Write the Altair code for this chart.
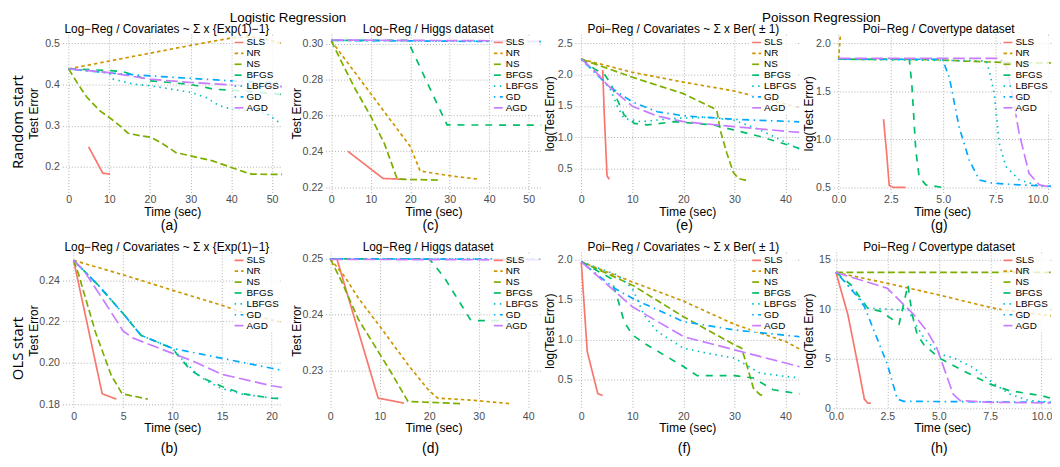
import altair as alt
import pandas as pd

METHODS = ["SLS", "NR", "NS", "BFGS", "LBFGS", "GD", "AGD"]
COLORS = ["#F8766D", "#CD9600", "#7CAE00", "#00BE67", "#00BFC4", "#00A9FF", "#C77CFF"]
DASHES = [[1, 0], [3.5, 3], [7, 3.5], [7, 7], [1.5, 4.5], [1.5, 4.5, 7, 4.5], [12, 4.5]]

# (a) Random start, Log-Reg / Covariates ~ Sigma x {Exp(1)-1}
PANEL_A = {
    "SLS": ([4.9, 8.4, 10.2], [0.249, 0.185, 0.183]),
    "NR": ([0, 10, 20, 30, 40, 44, 48, 52.5], [0.438, 0.457, 0.476, 0.495, 0.513, 0.516, 0.51, 0.50]),
    "NS": ([0, 2.3, 4.5, 7.7, 10, 12.6, 14.6, 17.5, 20.3, 23.2, 26.4, 30, 35.4, 40, 43.5, 45, 49, 52.5],
           [0.438, 0.401, 0.369, 0.336, 0.32, 0.30, 0.282, 0.276, 0.272, 0.256, 0.235, 0.227, 0.215, 0.199, 0.187, 0.183, 0.182, 0.182]),
    "BFGS": ([0, 5, 10, 13.4, 17, 19.9, 25, 30, 33.7, 35.4, 40, 45, 52.5],
             [0.438, 0.436, 0.434, 0.431, 0.42, 0.409, 0.405, 0.40, 0.393, 0.389, 0.386, 0.383, 0.376]),
    "LBFGS": ([0, 5, 10, 11, 15.9, 20, 24, 30, 33.7, 37, 40.2, 45, 49, 51.5, 52.5],
              [0.438, 0.433, 0.428, 0.413, 0.401, 0.397, 0.391, 0.381, 0.369, 0.349, 0.34, 0.338, 0.328, 0.31, 0.305]),
    "GD": ([0, 10, 20, 30, 40, 49, 52.5], [0.438, 0.428, 0.421, 0.415, 0.409, 0.405, 0.404]),
    "AGD": ([0, 10, 20, 30, 40, 48, 52.5], [0.438, 0.429, 0.413, 0.405, 0.399, 0.396, 0.395]),
}

# (c) Random start, Log-Reg / Higgs dataset
PANEL_C = {
    "SLS": ([4.2, 13.1, 18.5], [0.240, 0.2249, 0.2244]),
    "NR": ([0, 20, 22.5, 30, 37.5], [0.3015, 0.2427, 0.229, 0.2264, 0.2244]),
    "NS": ([0, 3, 6, 10, 13.5, 16.7, 20, 27], [0.3015, 0.288, 0.275, 0.2595, 0.244, 0.2245, 0.2243, 0.224]),
    "BFGS": ([0, 19.3, 29.3, 53.2], [0.3018, 0.3018, 0.2547, 0.2546]),
    "LBFGS": ([0, 53.2], [0.3018, 0.3012]),
    "GD": ([0, 53.2], [0.3018, 0.3010]),
    "AGD": ([0, 40, 53.2], [0.302, 0.3016, 0.3012]),
}

# (e) Random start, Poi-Reg / Covariates ~ Sigma x Ber(+-1)
PANEL_E = {
    "SLS": ([4.2, 4.5, 5.05, 5.5], [2.074, 1.38, 0.38, 0.326]),
    "NR": ([0, 10, 20, 30, 42.7], [2.247, 2.037, 1.879, 1.737, 1.47]),
    "NS": ([0, 10, 20, 26, 26.6, 27.2, 28.5, 29.8, 30.8, 32.7],
           [2.247, 1.958, 1.695, 1.458, 1.405, 1.116, 0.747, 0.432, 0.337, 0.30]),
    "BFGS": ([0, 2.6, 4.5, 5.8, 7.1, 8.4, 10.4, 13, 18.1, 25.9, 29.8, 35, 42.7],
             [2.247, 2.09, 2.01, 1.853, 1.59, 1.353, 1.22, 1.195, 1.247, 1.195, 1.116, 1.01, 0.82]),
    "LBFGS": ([0, 3.9, 5.8, 7.1, 8.4, 11.7, 18.1, 24.6, 29.8, 35, 42.7],
              [2.247, 1.958, 1.747, 1.484, 1.30, 1.247, 1.30, 1.316, 1.274, 1.116, 0.81]),
    "GD": ([0, 5.2, 10, 14.9, 20, 30, 42.7], [2.247, 1.826, 1.563, 1.405, 1.342, 1.284, 1.245]),
    "AGD": ([0, 2.6, 5.2, 10, 14.9, 20, 30, 42.7], [2.247, 2.063, 1.826, 1.495, 1.337, 1.247, 1.168, 1.075]),
}

# (g) Random start, Poi-Reg / Covertype dataset
PANEL_G = {
    "SLS": ([2.15, 2.3, 2.42, 2.6, 3.2], [1.21, 0.85, 0.52, 0.498, 0.497]),
    "NR": ([0, 0.06, 0.12], [1.834, 2.0, 2.2]),
    "NS": ([0, 4.5, 6, 8, 10.2], [1.834, 1.83, 1.815, 1.80, 1.795]),
    "BFGS": ([0, 3.38, 3.5, 3.69, 3.85, 4.17, 4.97], [1.834, 1.834, 1.576, 0.886, 0.61, 0.524, 0.497]),
    "LBFGS": ([0, 7.04, 7.2, 7.44, 7.68, 8.0, 8.63, 9.59, 10.2],
              [1.834, 1.817, 1.714, 1.472, 0.955, 0.714, 0.576, 0.514, 0.507]),
    "GD": ([0, 4.97, 5.29, 5.76, 6.24, 6.72, 7.36, 8.63, 9.59, 10.2],
           [1.834, 1.834, 1.645, 1.128, 0.783, 0.576, 0.541, 0.524, 0.514, 0.51]),
    "AGD": ([0, 7.68, 8.0, 8.3, 8.63, 9.1, 9.59, 10.2], [1.843, 1.843, 1.783, 1.472, 1.059, 0.645, 0.524, 0.50]),
}

# (b) OLS start, Log-Reg / Covariates ~ Sigma x {Exp(1)-1}
PANEL_B = {
    "SLS": ([0, 2.89, 4.32], [0.2497, 0.185, 0.1824]),
    "NR": ([0, 5, 10, 15, 17.4, 20.1, 21.2], [0.2497, 0.2427, 0.2352, 0.2279, 0.2239, 0.2207, 0.2195]),
    "NS": ([0, 0.5, 2.2, 3.8, 4.9, 7.5], [0.2497, 0.243, 0.215, 0.194, 0.185, 0.1824]),
    "BFGS": ([0, 2.5, 5, 6.8, 10, 10.5, 11.8, 13.1, 15, 17.1, 20, 21.2],
             [0.2497, 0.2376, 0.2239, 0.2134, 0.207, 0.2038, 0.1966, 0.1925, 0.1885, 0.185, 0.1829, 0.1826]),
    "LBFGS": ([0, 2.5, 5, 6.8, 10, 11.2, 12.5, 13.5, 15, 17.1, 20, 21.2],
              [0.2497, 0.2376, 0.2239, 0.2134, 0.207, 0.2005, 0.1945, 0.191, 0.1875, 0.1848, 0.1829, 0.1826]),
    "GD": ([0, 2.5, 5, 6.8, 10, 15, 20, 21.2], [0.2497, 0.2376, 0.2239, 0.2134, 0.207, 0.2022, 0.1974, 0.1962]),
    "AGD": ([0, 1, 3, 5, 6, 10, 12, 15, 20, 21.2],
            [0.2497, 0.245, 0.2305, 0.2155, 0.212, 0.2046, 0.2010, 0.1944, 0.1889, 0.188]),
}

# (d) OLS start, Log-Reg / Higgs dataset
PANEL_D = {
    "SLS": ([1.33, 9.67, 14.9], [0.25, 0.2250, 0.2241]),
    "NR": ([0, 3, 5.7, 10, 15.7, 20, 21.7, 29, 36.3], [0.25, 0.2467, 0.2429, 0.2379, 0.231, 0.2263, 0.225, 0.2246, 0.2240]),
    "NS": ([0, 2.3, 5.7, 12.3, 15.7, 26.7], [0.25, 0.2459, 0.2391, 0.2296, 0.2244, 0.2240]),
    "BFGS": ([0, 20, 23, 28.3, 29.7, 36], [0.25, 0.25, 0.2467, 0.2391, 0.2389, 0.2389]),
    "LBFGS": ([0, 42.7], [0.25, 0.25]),
    "GD": ([0, 42.7], [0.25, 0.2499]),
    "AGD": ([0, 42.7], [0.2499, 0.2498]),
}

# (f) OLS start, Poi-Reg / Covariates ~ Sigma x Ber(+-1)
PANEL_F = {
    "SLS": ([0, 1.17, 3.24, 4.2], [1.971, 0.85, 0.324, 0.30]),
    "NR": ([0, 10, 20, 30, 40, 42.8], [1.971, 1.72, 1.48, 1.19, 0.975, 0.88]),
    "NS": ([0, 10, 20, 30, 31.4, 32.4, 33.7, 35, 36], [1.971, 1.68, 1.286, 0.934, 0.892, 0.685, 0.394, 0.311, 0.30]),
    "BFGS": ([0, 5.83, 7.1, 8.4, 10, 12.3, 20, 22.7, 30, 33.7, 37.6, 42.8],
             [1.971, 1.763, 1.515, 1.224, 1.058, 0.954, 0.664, 0.548, 0.548, 0.519, 0.373, 0.32]),
    "LBFGS": ([0, 7.1, 10, 12.3, 14.9, 20, 24.6, 30, 35, 40, 42.8],
              [1.971, 1.805, 1.64, 1.307, 1.10, 0.892, 0.83, 0.768, 0.58, 0.539, 0.52]),
    "GD": ([0, 6.5, 10, 20, 30, 42.8], [1.971, 1.64, 1.515, 1.224, 1.12, 1.035]),
    "AGD": ([0, 5.2, 10, 20, 30, 42.8], [1.971, 1.68, 1.41, 1.037, 0.871, 0.66]),
}

# (h) OLS start, Poi-Reg / Covertype dataset
PANEL_H = {
    "SLS": ([0, 0.58, 1.06, 1.38, 1.54, 1.7], [13.7, 9.43, 4.43, 0.93, 0.53, 0.5]),
    "NR": ([0, 2.5, 5.0, 7.5, 8.12, 10.6], [13.7, 12.6, 11.43, 10.17, 9.93, 9.3]),
    "NS": ([0, 10.6], [13.7, 13.7]),
    "BFGS": ([0, 0.74, 1.54, 2.18, 3.07, 3.5, 3.71, 3.95, 4.27, 5.0, 6.2, 7.5, 8.44, 10, 10.6],
             [13.7, 12.43, 10.1, 9.77, 8.5, 12.43, 9.43, 7.43, 6.43, 5.1, 3.77, 2.43, 1.77, 1.27, 0.93]),
    "LBFGS": ([0, 0.74, 1.54, 3.0, 3.47, 3.79, 4.27, 5.07, 5.7, 6.68, 7.5, 8.44, 9.4, 10.6],
              [13.7, 12.1, 10.1, 9.93, 10.1, 8.77, 7.1, 5.43, 5.1, 4.1, 2.77, 1.43, 0.77, 0.6]),
    "GD": ([0, 0.42, 0.9, 1.38, 1.86, 2.5, 2.98, 3.3, 10.6], [13.7, 12.77, 11.6, 10.27, 7.77, 4.43, 0.93, 0.7, 0.6]),
    "AGD": ([0, 2.5, 3.79, 4.43, 4.9, 5.3, 5.7, 6.04, 7.5, 10.6],
            [13.7, 12.1, 9.43, 7.77, 6.1, 3.77, 1.43, 0.77, 0.6, 0.53]),
}

TITLE_LOG_COV = "Log\u2212Reg / Covariates ~ \u03a3 x {Exp(1)\u22121}"
TITLE_LOG_HIGGS = "Log\u2212Reg / Higgs dataset"
TITLE_POI_COV = "Poi\u2212Reg / Covariates ~ \u03a3 x Ber( \u00b1 1)"
TITLE_POI_COVER = "Poi\u2212Reg / Covertype dataset"

SANS = "Liberation Sans"
HEAD = "Open Sans"
GRID = "#a6a6a6"


def make_df(data):
    rows = []
    for m in METHODS:
        ts, es = data[m]
        for t, e in zip(ts, es):
            rows.append({"method": m, "time": t, "err": e})
    return pd.DataFrame(rows)


def make_legend():
    return alt.Legend(
        title=None, orient="top-right", offset=2, padding=1,
        symbolType="stroke", symbolSize=81, symbolStrokeWidth=1.7,
        labelFont=SANS, labelFontSize=10, labelColor="black", labelOffset=2,
        rowPadding=0, fillColor="rgba(255,255,255,0.8)", labelLimit=80,
    )


def panel(data, title, caption, xdom, ydom, xvals, yvals, xfmt, yfmt, ytitle,
          w, h, yext, x_title_pad, cap_off, flush=True):
    df = make_df(data)
    xaxis = alt.Axis(
        values=xvals, format=xfmt, title="Time (sec)", grid=True, gridDash=[1, 2],
        gridColor=GRID, gridWidth=0.9, ticks=False, domain=False,
        labelFont=SANS, labelFontSize=10.7, labelColor="#4d4d4d", labelPadding=2.5,
        titleFont=SANS, titleFontSize=12.3, titleFontWeight="normal", titleColor="black",
        titlePadding=x_title_pad, labelFlush=flush,
    )
    yaxis = alt.Axis(
        values=yvals, format=yfmt, title=ytitle, grid=True, gridDash=[1, 2],
        gridColor=GRID, gridWidth=0.9, ticks=False, domain=False,
        labelFont=SANS, labelFontSize=10.7, labelColor="#4d4d4d", labelPadding=3,
        titleFont=SANS, titleFontSize=12, titleFontWeight="normal", titleColor="black",
        titlePadding=2, minExtent=yext, maxExtent=yext,
    )
    inner = alt.Chart(df).mark_line(clip=True, strokeWidth=1.7).encode(
        x=alt.X("time:Q", scale=alt.Scale(domain=xdom, nice=False, zero=False), axis=xaxis),
        y=alt.Y("err:Q", scale=alt.Scale(domain=ydom, nice=False, zero=False), axis=yaxis),
        color=alt.Color("method:N", scale=alt.Scale(domain=METHODS, range=COLORS), legend=make_legend()),
        strokeDash=alt.StrokeDash("method:N", scale=alt.Scale(domain=METHODS, range=DASHES), legend=make_legend()),
    ).properties(
        width=w, height=h,
        title=alt.TitleParams(caption, orient="bottom", anchor="middle", frame="group",
                              font=SANS, fontSize=14, fontWeight="normal", color="black",
                              offset=cap_off, dx=-3),
    )
    return alt.vconcat(inner, spacing=0).properties(
        title=alt.TitleParams(title, anchor="middle", font=SANS, fontSize=12,
                              fontWeight="normal", color="black", offset=-1.7, dx=12)
    ).resolve_scale(color="independent", strokeDash="independent")


H1, H2 = 160, 159
W1, W2, W3, W4 = 222, 218, 227, 220

pa = panel(PANEL_A, TITLE_LOG_COV, "(a)", [-1.53, 52.48], [0.1384, 0.5223], [0, 10, 20, 30, 40, 50],
           [0.2, 0.3, 0.4, 0.5], "d", ".1f", "Test Error", W1, H1, 20, 1, 1.8)
pc = panel(PANEL_C, TITLE_LOG_HIGGS, "(c)", [-1.43, 53.2], [0.2171, 0.3053], [0, 10, 20, 30, 40, 50],
           [0.22, 0.24, 0.26, 0.28, 0.30], "d", ".2f", "Test Error", W2, H1, 20, 1, 1.8)
pe = panel(PANEL_E, TITLE_POI_COV, "(e)", [-1.22, 42.77], [0.116, 2.647], [0, 10, 20, 30, 40],
           [0.5, 1.0, 1.5, 2.0, 2.5], "d", ".1f", "log(Test Error)", W3, H1, 17, 1, 1.8)
pg = panel(PANEL_G, TITLE_POI_COVER, "(g)", [-0.25, 10.15], [0.445, 2.096], [0, 2.5, 5, 7.5, 10],
           [0.5, 1.0, 1.5, 2.0], ".1f", ".1f", "log(Test Error)", W4, H1, 16, 1, 1.8, flush=4.5)

pb = panel(PANEL_B, TITLE_LOG_COV, "(b)", [-1.13, 21.07], [0.1775, 0.2538], [0, 5, 10, 15, 20],
           [0.18, 0.20, 0.22, 0.24], "d", ".2f", "Test Error", W1, H2, 20, 0, 9.1)
pd_ = panel(PANEL_D, TITLE_LOG_HIGGS, "(d)", [-0.94, 42.66], [0.2230, 0.25124], [0, 10, 20, 30, 40],
            [0.23, 0.24, 0.25], "d", ".2f", "Test Error", W2, H2, 20, 0, 9.1)
pf = panel(PANEL_F, TITLE_POI_COV, "(f)", [-1.22, 42.77], [0.129, 2.095], [0, 10, 20, 30, 40],
           [0.5, 1.0, 1.5, 2.0], "d", ".1f", "log(Test Error)", W3, H2, 17, 0, 9.1)
ph = panel(PANEL_H, TITLE_POI_COVER, "(h)", [-0.13, 10.46], [-0.1, 15.77], [0, 2.5, 5, 7.5, 10],
           [0, 5, 10, 15], ".1f", "d", "log(Test Error)", W4, H2, 16, 0, 9.1)

IND = dict(color="independent", strokeDash="independent")

g1 = alt.hconcat(pa, pc, spacing=9).properties(
    title=alt.TitleParams("Logistic Regression", font=SANS, fontSize=13.5, fontWeight="normal",
                          color="black", anchor="middle", offset=-1.4, dx=3.5)
).resolve_scale(**IND)
g2 = alt.hconcat(pe, pg, spacing=3).properties(
    title=alt.TitleParams("Poisson Regression", font=SANS, fontSize=13.5, fontWeight="normal",
                          color="black", anchor="middle", offset=-1.4, dx=24.5)
).resolve_scale(**IND)
row1 = alt.hconcat(g1, g2, spacing=2).properties(
    title=alt.TitleParams("Random start", orient="left", font=HEAD, fontSize=15, fontWeight="normal",
                          color="black", anchor="middle", offset=1.5)
).resolve_scale(**IND)

g3 = alt.hconcat(pb, pd_, spacing=9).resolve_scale(**IND)
g4 = alt.hconcat(pf, ph, spacing=3).resolve_scale(**IND)
row2 = alt.hconcat(g3, g4, spacing=2).properties(
    title=alt.TitleParams("OLS start", orient="left", font=HEAD, fontSize=15, fontWeight="normal",
                          color="black", anchor="middle", offset=1.5)
).resolve_scale(**IND)

chart = alt.vconcat(row1, row2, spacing=6.1).resolve_scale(**IND).properties(
    padding={"top": 0, "left": 3, "right": 0, "bottom": 0}, background="white"
).configure_view(stroke=None)

chart.save("out.html", embed_options={"renderer": "svg", "actions": False})
